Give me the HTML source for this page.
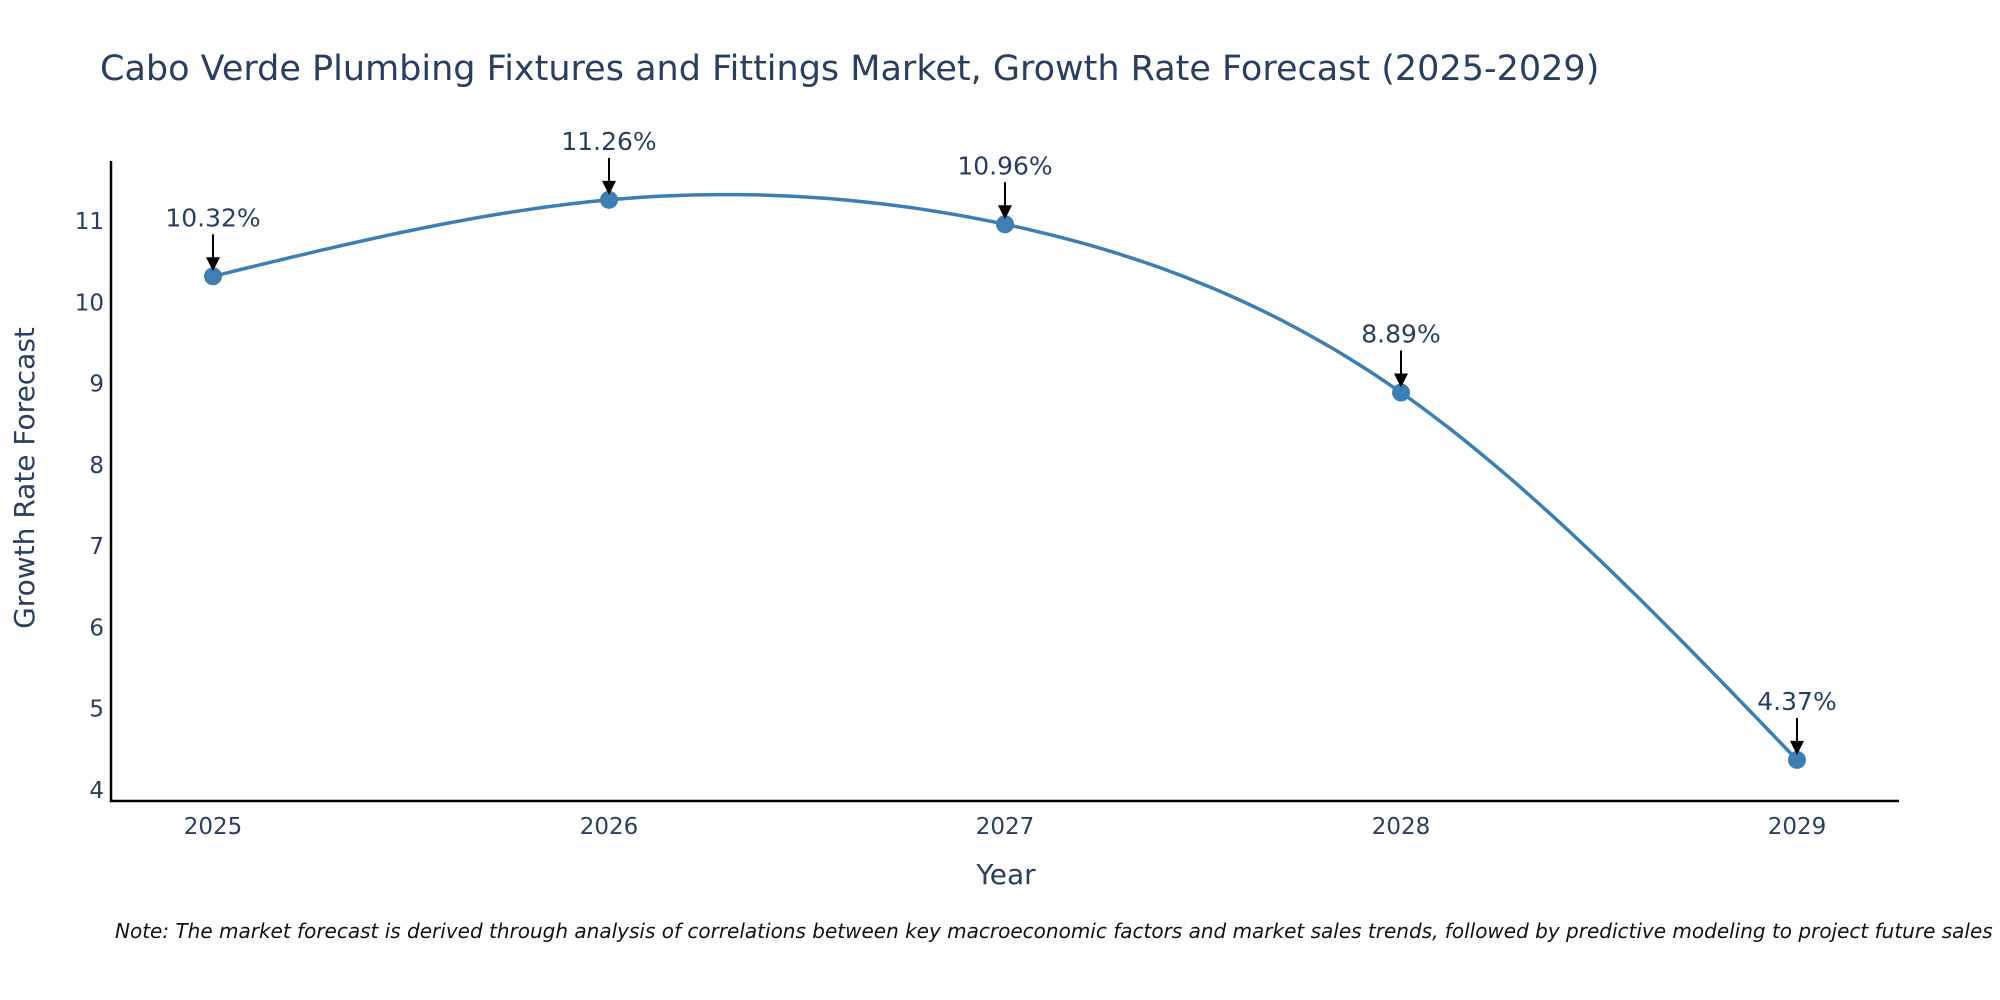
<!DOCTYPE html>
<html><head><meta charset="utf-8">
<style>
html,body{margin:0;padding:0;background:#fff;}
svg{display:block;font-family:"DejaVu Sans","Liberation Sans",sans-serif;}
</style></head>
<body>
<svg id="chart" width="2000" height="1000" viewBox="0 0 2000 1000" xmlns="http://www.w3.org/2000/svg">
<text x="100" y="80" font-size="35" fill="#2a3f5f">Cabo Verde Plumbing Fixtures and Fittings Market, Growth Rate Forecast (2025-2029)</text>
<g id="yticks"></g>
<g id="xticks"></g>
<line x1="111" y1="161" x2="111" y2="802" stroke="#000" stroke-width="2.5"/>
<line x1="110" y1="801" x2="1899" y2="801" stroke="#000" stroke-width="2.5"/>
<text transform="translate(34,478) rotate(-90)" text-anchor="middle" font-size="28" fill="#2a3f5f">Growth Rate Forecast</text>
<text x="1006" y="884" text-anchor="middle" font-size="28" fill="#2a3f5f">Year</text>
<g id="series"></g>
<text x="115" y="938" font-size="20" font-style="italic" fill="#111">Note: The market forecast is derived through analysis of correlations between key macroeconomic factors and market sales trends, followed by predictive modeling to project future sales</text>
</svg>
<script>
const years = [2025, 2026, 2027, 2028, 2029];
const values = [10.32, 11.26, 10.96, 8.89, 4.37];
const labels = ["10.32%", "11.26%", "10.96%", "8.89%", "4.37%"];
const yTicks = [4, 5, 6, 7, 8, 9, 10, 11];

const NS = "http://www.w3.org/2000/svg";
function xS(v){ return 213 + (v - 2025) * (1797 - 213) / 4; }
function yS(v){ return 790 - (v - 4) * (790 - 221) / 7; }
function mk(tag, attrs, parent){
  const e = document.createElementNS(NS, tag);
  for (const k in attrs) e.setAttribute(k, attrs[k]);
  parent.appendChild(e); return e;
}
const yg = document.getElementById('yticks');
yTicks.forEach(t => {
  const e = mk('text', {x: 104, y: yS(t) + 8, 'text-anchor': 'end', 'font-size': 23, fill: '#2a3f5f'}, yg);
  
  
  e.textContent = t;
});
const xg = document.getElementById('xticks');
years.forEach(y => {
  const e = mk('text', {x: xS(y), y: 834, 'text-anchor': 'middle', 'font-size': 23, fill: '#2a3f5f'}, xg);
  
  
  e.textContent = y;
});
const sg = document.getElementById('series');
const pts = years.map((y, i) => [xS(y), yS(values[i])]);
// natural cubic spline in pixel space
const n = pts.length;
const h = [], M = new Array(n).fill(0);
for (let i = 0; i < n - 1; i++) h.push(pts[i+1][0] - pts[i][0]);
const a = [], b = [], c = [], r = [];
for (let i = 1; i < n - 1; i++) {
  a.push(h[i-1]); b.push(2*(h[i-1]+h[i])); c.push(h[i]);
  r.push(6*((pts[i+1][1]-pts[i][1])/h[i] - (pts[i][1]-pts[i-1][1])/h[i-1]));
}
const m = b.length;
for (let i = 1; i < m; i++) { const w = a[i]/b[i-1]; b[i] -= w*c[i-1]; r[i] -= w*r[i-1]; }
const sol = new Array(m);
for (let i = m - 1; i >= 0; i--) sol[i] = (r[i] - (i < m-1 ? c[i]*sol[i+1] : 0)) / b[i];
for (let i = 0; i < m; i++) M[i+1] = sol[i];
let d = 'M' + pts[0][0] + ',' + pts[0][1];
for (let i = 0; i < n - 1; i++) {
  for (let k = 1; k <= 40; k++) {
    const t = k / 40, x = pts[i][0] + t*h[i];
    const A = 1 - t, B = t;
    const y = A*pts[i][1] + B*pts[i+1][1] + ((A*A*A - A)*M[i] + (B*B*B - B)*M[i+1]) * h[i]*h[i] / 6;
    d += ' L' + x.toFixed(1) + ',' + y.toFixed(1);
  }
}
const line = mk('path', {d: d, fill: 'none', stroke: '#3d7fb3', 'stroke-width': 3.5}, sg);


pts.forEach((p, i) => {
  const cc = mk('circle', {cx: p[0], cy: p[1], r: 9, fill: '#3d7fb3'}, sg);
  
  
  const ar = mk('line', {x1: p[0], y1: p[1] - 42, x2: p[0], y2: p[1] - 14, stroke: '#000', 'stroke-width': 2}, sg);
  
  
  const hd = mk('polygon', {points: (p[0]-7)+','+(p[1]-19)+' '+(p[0]+7)+','+(p[1]-19)+' '+p[0]+','+(p[1]-5), fill: '#000'}, sg);
  
  
  const t = mk('text', {x: p[0], y: p[1] - 50, 'text-anchor': 'middle', 'font-size': 25, fill: '#2a3f5f'}, sg);
  
  
  t.textContent = labels[i];
});
</script>
</body></html>
